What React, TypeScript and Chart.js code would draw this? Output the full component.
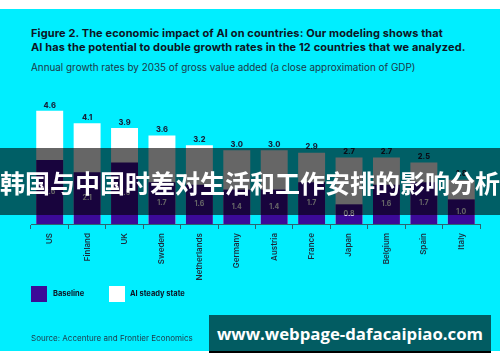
import React, { useEffect, useRef } from "react";
import { Chart, registerables } from "chart.js";

Chart.register(...registerables);

const categories = ["US", "Finland", "UK", "Sweden", "Netherlands", "Germany", "Austria", "France", "Japan", "Belgium", "Spain", "Italy"];
const baseline = [2.6, 2.1, 2.5, 1.7, 1.6, 1.4, 1.4, 1.7, 0.8, 1.6, 1.7, 1.0];
const aiSteadyState = [4.6, 4.1, 3.9, 3.6, 3.2, 3.0, 3.0, 2.9, 2.7, 2.7, 2.5, 1.8];
const seriesNames = ["Baseline", "AI steady state"];

const titleLines = [
  "Figure 2. The economic impact of AI on countries: Our modeling shows that",
  "AI has the potential to double growth rates in the 12 countries that we analyzed.",
];
const subtitle = "Annual growth rates by 2035 of gross value added (a close approximation of GDP)";
const sourceText = "Source: Accenture and Frontier Economics";
const bandText = "韩国与中国时差对生活和工作安排的影响分析";
const watermark = "www.webpage-dafacaipiao.com";

const CYAN = "#00eeff";
const PURPLE = "#3c0a98";
const DARK = "#16213a";
const AXIS = "#2d6470";

const labelPlugin = {
  id: "valueLabels",
  afterDatasetsDraw(chart: any) {
    const ctx = chart.ctx;
    ctx.save();
    ctx.textAlign = "center";
    ctx.textBaseline = "middle";
    const metaAI = chart.getDatasetMeta(1);
    metaAI.data.forEach((bar: any, i: number) => {
      ctx.font = "800 7.5px Inter, 'DejaVu Sans', sans-serif";
      ctx.fillStyle = DARK;
      ctx.fillText(aiSteadyState[i].toFixed(1), bar.x, bar.y - 5.5);
    });
    const metaB = chart.getDatasetMeta(0);
    metaB.data.forEach((bar: any, i: number) => {
      ctx.font = "700 7px Inter, 'DejaVu Sans', sans-serif";
      ctx.fillStyle = "#ffffff";
      ctx.fillText(baseline[i].toFixed(1), bar.x, (bar.y + bar.base) / 2);
    });
    ctx.restore();
  },
};

export default function App() {
  const canvasRef = useRef<HTMLCanvasElement | null>(null);

  useEffect(() => {
    if (!canvasRef.current) return;
    const chart = new Chart(canvasRef.current, {
      type: "bar",
      data: {
        labels: categories,
        datasets: [
          {
            label: seriesNames[0],
            data: baseline,
            backgroundColor: PURPLE,
            grouped: false,
            barPercentage: 0.72,
            categoryPercentage: 1,
          } as any,
          {
            label: seriesNames[1],
            data: aiSteadyState,
            backgroundColor: "#ffffff",
            grouped: false,
            barPercentage: 0.72,
            categoryPercentage: 1,
          } as any,
        ],
      },
      options: {
        responsive: false,
        animation: false,
        devicePixelRatio: 1,
        layout: { padding: { left: 31, right: 20, top: 101, bottom: 0 } },
        plugins: {
          legend: { display: false },
          tooltip: { enabled: false },
          title: { display: false },
        },
        scales: {
          x: {
            offset: true,
            grid: {
              offset: true,
              drawOnChartArea: false,
              drawTicks: true,
              tickLength: 5,
              color: AXIS,
              lineWidth: 1,
            },
            border: { display: true, color: AXIS, width: 1 },
            ticks: {
              minRotation: 90,
              maxRotation: 90,
              autoSkip: false,
              padding: 4,
              color: "#1c2b3c",
              font: { family: "Inter, 'DejaVu Sans', sans-serif", size: 8, weight: "600" as any },
            },
            afterFit: (scale: any) => {
              scale.height = 138;
            },
          },
          y: {
            display: false,
            min: 0,
            max: 5,
          },
        },
      },
      plugins: [labelPlugin],
    });
    return () => chart.destroy();
  }, []);

  const font = "Inter, 'DejaVu Sans', sans-serif";

  return (
    <div style={{ position: "absolute", left: 0, top: 0, width: 500, height: 362, background: "#ffffff", overflow: "hidden" }}>
      <div style={{ position: "absolute", left: 0, top: 9, width: 500, height: 342, background: CYAN }} />
      <div style={{ position: "absolute", left: 31, top: 26, fontFamily: font, fontWeight: 700, fontSize: 11, letterSpacing: 0.12, lineHeight: "14px", color: "#0d1424", whiteSpace: "nowrap" }}>
        <div>{titleLines[0]}</div>
        <div>{titleLines[1]}</div>
      </div>
      <div style={{ position: "absolute", left: 31, top: 61, fontFamily: font, fontWeight: 400, fontSize: 9.9, lineHeight: "13px", color: "#1d3848", whiteSpace: "nowrap" }}>
        {subtitle}
      </div>
      <canvas ref={canvasRef} width={500} height={362} style={{ position: "absolute", left: 0, top: 0, width: 500, height: 362 }} />
      {/* legend */}
      <div style={{ position: "absolute", left: 31, top: 286, width: 16, height: 16, background: PURPLE }} />
      <div style={{ position: "absolute", left: 53, top: 289, fontFamily: font, fontWeight: 700, fontSize: 7.5, lineHeight: "10px", color: "#0d1424", whiteSpace: "nowrap" }}>
        {seriesNames[0]}
      </div>
      <div style={{ position: "absolute", left: 109, top: 286, width: 16, height: 16, background: "#ffffff" }} />
      <div style={{ position: "absolute", left: 130, top: 289, fontFamily: font, fontWeight: 700, fontSize: 7.5, lineHeight: "10px", color: "#0d1424", whiteSpace: "nowrap" }}>
        {seriesNames[1]}
      </div>
      <div style={{ position: "absolute", left: 31, top: 333, fontFamily: font, fontWeight: 400, fontSize: 8, lineHeight: "10px", color: "#1d3848", whiteSpace: "nowrap" }}>
        {sourceText}
      </div>
      {/* overlay band */}
      <div style={{ position: "absolute", left: 0, top: 148, width: 500, height: 67, background: "rgba(0,0,0,0.6)" }} />
      <div style={{ position: "absolute", left: 0, top: 148, width: 500, height: 67, display: "flex", alignItems: "center", justifyContent: "center", fontFamily: "'Noto Sans CJK SC', sans-serif", fontWeight: 700, fontSize: 25, color: "#ffffff", whiteSpace: "nowrap" }}>
        {bandText}
      </div>
      {/* watermark */}
      <div style={{ position: "absolute", left: 209, top: 351, width: 282, height: 2, background: "#000000" }} />
      <div style={{ position: "absolute", left: 209, top: 315, width: 282, height: 36, background: "#025c62", display: "flex", alignItems: "center", justifyContent: "center", fontFamily: "'Open Sans', 'DejaVu Sans', sans-serif", fontWeight: 700, fontSize: 16.8, color: "#ffffff", whiteSpace: "nowrap" }}>
        {watermark}
      </div>
    </div>
  );
}
